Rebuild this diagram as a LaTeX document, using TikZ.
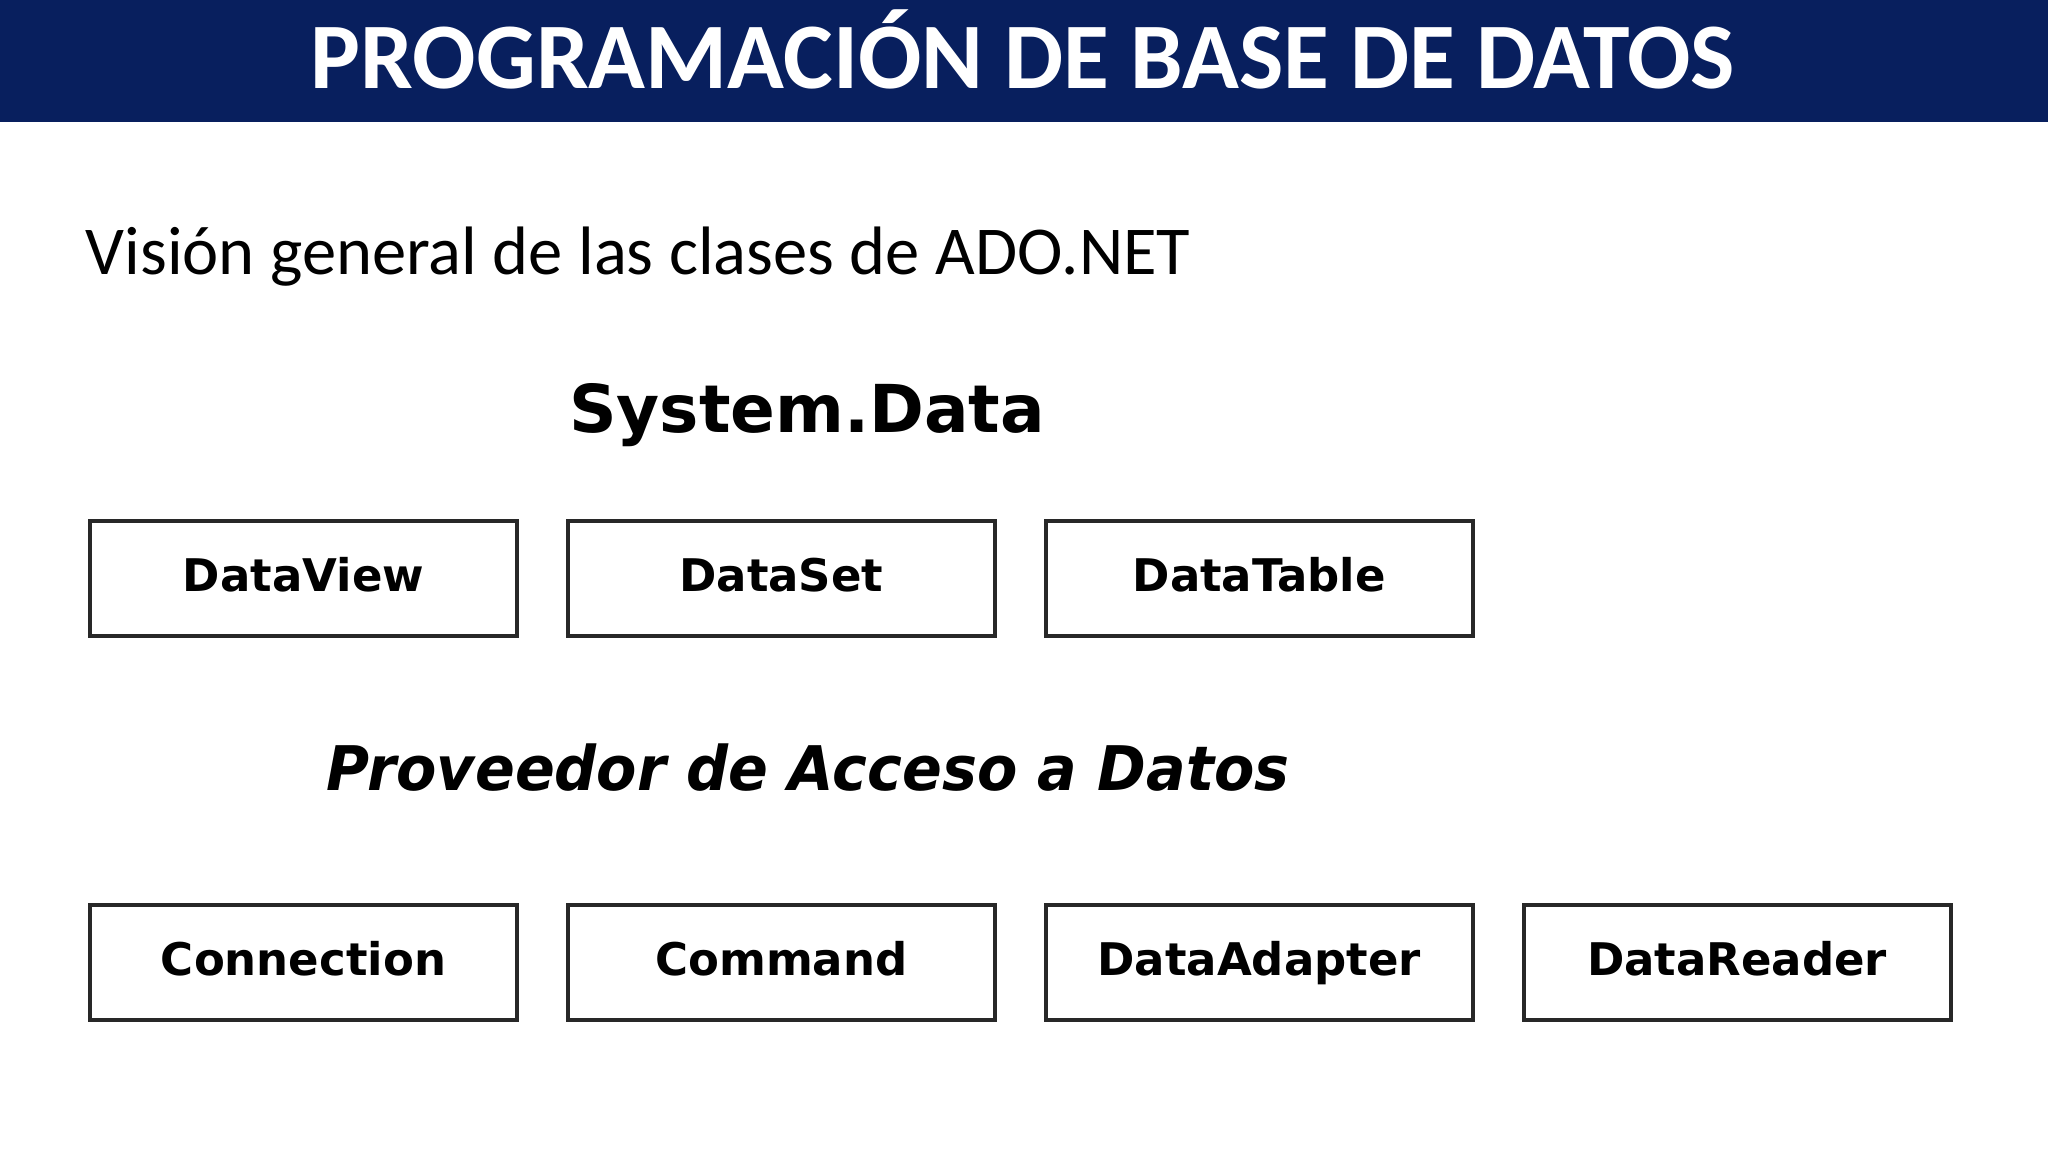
\documentclass[tikz,border=0pt]{standalone}
\usepackage{fontspec}
\setmainfont{Carlito}
\newfontfamily\verdana{DejaVu Sans}
\usepackage{xcolor}
\usetikzlibrary{positioning}
\definecolor{navy}{RGB}{8,31,94}
\definecolor{boxline}{RGB}{40,40,40}
\tikzset{
  clase/.style={draw=boxline, line width=1.1pt, minimum width=4.27cm, minimum height=1.15cm,
    inner sep=0pt, text height=0.73em, text depth=0pt,
    font=\verdana\bfseries\fontsize{12.8}{15}\selectfont},
}

\begin{document}
\begin{tikzpicture}
		\useasboundingbox (0,0) rectangle (20.48,-11.52);
		\fill[white] (0,0) rectangle (20.48,-11.52);
		\fill[navy] (0,0) rectangle (20.48,-1.22);
		\node[anchor=base, text=white, font=\bfseries\fontsize{26.7}{32}\selectfont] (titulo) at (10.23,-0.89) {PROGRAMACIÓN DE BASE DE DATOS};
		\node[anchor=base west, inner sep=0pt, font=\fontsize{19.5}{24}\selectfont] (vision) at (0.85,-2.75) {Visión general de las clases de ADO.NET};
		\node[anchor=base, font=\verdana\bfseries\fontsize{18.8}{22}\selectfont] (sysdata) at (8.07,-4.33) {System.Data};
		% System.Data
		\node[clase] (dataview) at (3.035,-5.785) {DataView};
		\node[clase, right=0.47cm of dataview] (dataset) {DataSet};
		\node[clase, right=0.47cm of dataset] (datatable) {DataTable};
		\node[anchor=base, xscale=0.955, transform shape, font=\verdana\bfseries\itshape\fontsize{17.5}{21}\selectfont] (proveedor) at (8.08,-7.90) {Proveedor de Acceso a Datos};
		% proveedor
		\node[clase, below=2.65cm of dataview] (connection) {Connection};
		\node[clase, right=0.47cm of connection] (command) {Command};
		\node[clase, right=0.47cm of command] (dataadapter) {DataAdapter};
		\node[clase, right=0.47cm of dataadapter] (datareader) {DataReader};
\end{tikzpicture}
\end{document}
